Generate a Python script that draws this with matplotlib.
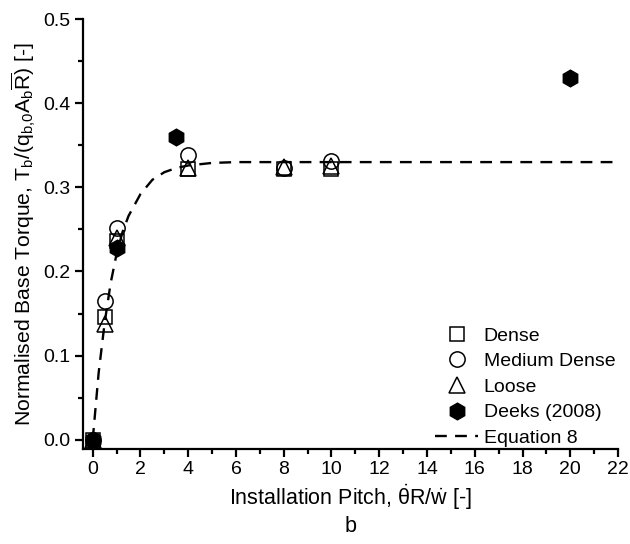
import matplotlib
matplotlib.use("Agg")
import matplotlib.pyplot as plt
from matplotlib.ticker import MultipleLocator

plt.rcParams['font.family'] = ['Liberation Sans', 'DejaVu Sans']
plt.rcParams['mathtext.fontset'] = 'custom'
plt.rcParams['mathtext.rm'] = 'Liberation Sans'
plt.rcParams['mathtext.it'] = 'Liberation Sans'
plt.rcParams['mathtext.bf'] = 'Liberation Sans:bold'

# Data
dense_x = [0, 0.5, 1, 4, 8, 10]
dense_y = [0.0, 0.146, 0.236, 0.322, 0.322, 0.322]
medium_x = [0, 0.5, 1, 4, 8, 10]
medium_y = [0.0, 0.165, 0.252, 0.338, 0.323, 0.331]
loose_x = [0, 0.5, 1, 4, 8, 10]
loose_y = [0.0, 0.138, 0.240, 0.323, 0.324, 0.325]
deeks_x = [0, 1, 3.5, 20]
deeks_y = [0.0, 0.228, 0.360, 0.430]
eq_x = [0, 0.25, 0.5, 0.75, 1, 1.25, 1.5, 2, 2.5, 3, 3.5, 4, 5, 6, 8, 10, 15, 22]
eq_y = [0.0, 0.080, 0.139, 0.186, 0.221, 0.247, 0.266, 0.292, 0.309, 0.318,
        0.323, 0.326, 0.329, 0.330, 0.330, 0.330, 0.330, 0.330]

fig = plt.figure(figsize=(6.3, 5.44), dpi=100)
ax = fig.add_axes([0.132, 0.175, 0.849, 0.79])

ms = 11
ax.plot(eq_x, eq_y, ls=(0, (5, 3.5)), color='black', lw=1.7, label='Equation 8', zorder=2)
ax.plot(dense_x, dense_y, ls='none', marker='s', ms=ms - 1, mfc='none', mec='black', mew=1.1,
        label='Dense', zorder=3)
ax.plot(medium_x, medium_y, ls='none', marker='o', ms=ms, mfc='none', mec='black', mew=1.1,
        label='Medium Dense', zorder=3)
ax.plot(loose_x, loose_y, ls='none', marker='^', ms=ms, mfc='none', mec='black', mew=1.1,
        label='Loose', zorder=3)
ax.plot(deeks_x, deeks_y, ls='none', marker='h', ms=ms + 1, mfc='black', mec='black',
        label='Deeks (2008)', zorder=4)

ax.set_xlim(-0.4, 22)
ax.set_ylim(-0.0107, 0.5)
ax.xaxis.set_major_locator(MultipleLocator(2))
ax.xaxis.set_minor_locator(MultipleLocator(1))
ax.yaxis.set_major_locator(MultipleLocator(0.1))
ax.yaxis.set_minor_locator(MultipleLocator(0.05))
ax.set_yticks([0, 0.1, 0.2, 0.3, 0.4, 0.5])
ax.set_yticklabels(['0.0', '0.1', '0.2', '0.3', '0.4', '0.5'])

ax.spines['top'].set_visible(False)
ax.spines['right'].set_visible(False)
ax.spines['left'].set_bounds(-0.0107, 0.5)
for s in ['left', 'bottom']:
    ax.spines[s].set_linewidth(1.6)
ax.tick_params(which='major', direction='out', length=6, width=1.6, labelsize=14, pad=3)
ax.tick_params(which='minor', direction='out', length=3.5, width=1.6)

ax.set_xlabel('Installation Pitch, $\\dot{\\theta}R/\\dot{w}$ [-]\nb', fontsize=15.5, labelpad=3,
              linespacing=1.25)
ax.set_ylabel('Normalised Base Torque, $\\mathrm{T_b/(q_{b{,}0}A_b\\overline{R})}$ [-]', fontsize=15.2,
              labelpad=4)

handles, labels = ax.get_legend_handles_labels()
order = [1, 2, 3, 4, 0]
ax.legend([handles[i] for i in order], [labels[i] for i in order], loc='lower right',
          bbox_to_anchor=(1.017, -0.023), frameon=False, fontsize=14, handlelength=2.2,
          handletextpad=0.3, labelspacing=0.41, borderaxespad=0.2)

fig.savefig('out.png', dpi=100)
